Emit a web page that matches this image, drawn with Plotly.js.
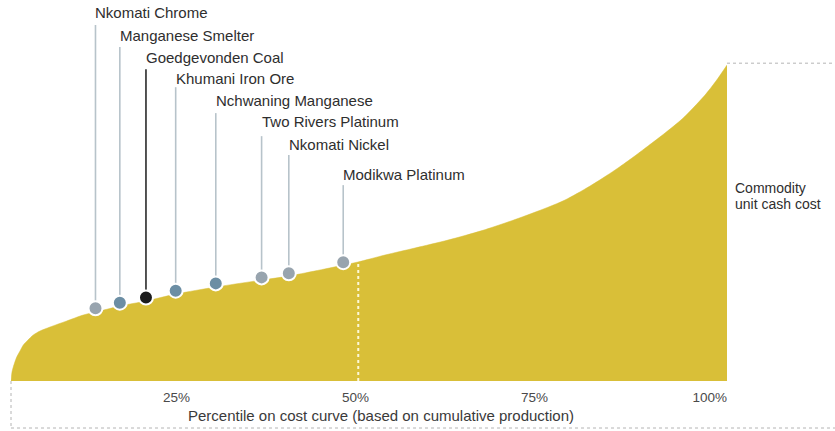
<!DOCTYPE html>
<html>
<head>
<meta charset="utf-8">
<script src="https://cdn.plot.ly/plotly-3.0.1.min.js"></script>
<style>html,body{margin:0;padding:0;background:#fff;}#chart{width:835px;height:431px;}</style>
</head>
<body>
<div id="chart"></div>
<script>
// Cost curve (percentile of cumulative production vs. unit cash cost, indexed 0-100)
const curvePct  = [0,0.07,0.14,0.32,0.8,1.26,1.72,2.37,3.11,4.05,5.45,7.78,10.1,12.43,15.22,18.85,23.04,28.63,35.06,38.83,46.51,48.46,52.23,56.42,61.03,65.78,70.39,75.0,77.37,80.87,84.36,86.73,88.97,91.34,93.72,95.39,96.93,98.46,100];
const curveCost = [0,1.58,2.85,4.43,7.59,9.49,11.39,12.97,14.56,15.82,17.09,18.99,20.89,22.15,23.73,25.32,27.53,29.75,31.96,33.23,36.71,37.66,39.87,42.09,44.6,47.6,51.1,55.0,57.28,61.71,66.77,70.57,74.37,78.48,82.91,86.71,90.51,94.94,100];

// Operations placed on the curve
const opNames  = ["Nkomati Chrome","Manganese Smelter","Goedgevonden Coal","Khumani Iron Ore","Nchwaning Manganese","Two Rivers Platinum","Nkomati Nickel","Modikwa Platinum"];
const opPct    = [11.8,15.2,18.85,23.0,28.6,35.0,38.8,46.4];
const opCost   = [23.0,24.8,26.4,28.6,30.9,32.8,34.1,37.6];
const opLabelY = [116.5,109.5,102.5,95.6,88.9,82.0,75.0,65.5];
const opLineTop= [112.7,105.7,98.7,93.0,84.8,77.5,71.5,62.0];
const opColor  = ["#98a4ae","#6c8ea4","#1c1c1c","#6c8ea4","#6c8ea4","#98a4ae","#98a4ae","#98a4ae"];
const opLineColor = ["#b7c3ca","#b7c3ca","#2a2a2a","#b7c3ca","#b7c3ca","#b7c3ca","#b7c3ca","#b7c3ca"];

const tickVals = [25,50,75,100];
const tickText = ["25%","50%","75%","100%"];
const medianLineX = 48.5;
const medianLineTop = 37.7;
const sideLabel = ["Commodity","unit cash cost"];
const sideLabelY = [61.1,56.0];
const xTitle = "Percentile on cost curve (based on cumulative production)";

const FONT = "Liberation Sans, Arial, sans-serif";

const traces = [];
traces.push({
  x: curvePct, y: curveCost, type: "scatter", mode: "lines",
  fill: "tozeroy", fillcolor: "#d9bf38",
  line: {color: "#d9bf38", width: 0.5, shape: "spline", smoothing: 0.8},
  hoverinfo: "skip", showlegend: false
});
// median dotted line
traces.push({
  x: [medianLineX, medianLineX], y: [0, medianLineTop], type: "scatter", mode: "lines",
  line: {color: "rgba(255,252,225,0.95)", width: 2, dash: "dot"},
  hoverinfo: "skip", showlegend: false
});
// leader lines
for (let i = 0; i < opNames.length; i++) {
  traces.push({
    x: [opPct[i], opPct[i]], y: [opCost[i], opLineTop[i]], type: "scatter", mode: "lines",
    line: {color: opLineColor[i], width: 1.6},
    hoverinfo: "skip", showlegend: false
  });
}
// markers
traces.push({
  x: opPct, y: opCost, type: "scatter", mode: "markers",
  marker: {size: 14, color: opColor, line: {color: "#ffffff", width: 2}},
  text: opNames, hoverinfo: "text", showlegend: false
});

const annotations = opNames.map((n, i) => ({
  x: opPct[i], y: opLabelY[i], xref: "x", yref: "y",
  text: n, showarrow: false, xanchor: "left", yanchor: "middle", xshift: -2,
  font: {family: FONT, size: 15, color: "#2e2e2e"}
}));
sideLabel.forEach((t, i) => annotations.push({
  x: 1.0, y: sideLabelY[i], xref: "paper", yref: "y", text: t, showarrow: false,
  xanchor: "left", yanchor: "middle", xshift: 6,
  font: {family: FONT, size: 14, color: "#2e2e2e"}
}));
annotations.push({
  x: 0.517, y: -0.0895, xref: "paper", yref: "paper",
  text: xTitle, showarrow: false, xanchor: "center", yanchor: "middle",
  font: {family: FONT, size: 15, color: "#3a3a3a"}
});

const dotted = {color: "#b4b4b4", width: 1, dash: "dot"};
const shapes = [
  {type: "line", xref: "paper", yref: "paper", x0: 0, x1: 0, y0: 0, y1: -0.1234, line: dotted},
  {type: "line", xref: "paper", yref: "paper", x0: 0, x1: 1.16, y0: -0.1234, y1: -0.1234, line: dotted},
  {type: "line", xref: "paper", yref: "y", x0: 1.0, x1: 1.16, y0: 100.6, y1: 100.6, line: dotted}
];

const layout = {
  width: 835, height: 431,
  margin: {l: 11, r: 108, t: 0, b: 50, pad: 0},
  paper_bgcolor: "#ffffff", plot_bgcolor: "#ffffff",
  showlegend: false,
  xaxis: {
    range: [0, 100], showgrid: false, zeroline: false, showline: false,
    tickvals: tickVals, ticktext: tickText, ticks: "", ticklabelposition: "outside left",
    ticklabelstandoff: 6,
    tickfont: {family: FONT, size: 13.5, color: "#4a4a4a"}, fixedrange: true
  },
  yaxis: {
    range: [0, 120.6], showgrid: false, zeroline: false, showline: false,
    showticklabels: false, ticks: "", fixedrange: true
  },
  annotations: annotations,
  shapes: shapes
};

Plotly.newPlot("chart", traces, layout, {displayModeBar: false, staticPlot: true});
</script>
</body>
</html>
